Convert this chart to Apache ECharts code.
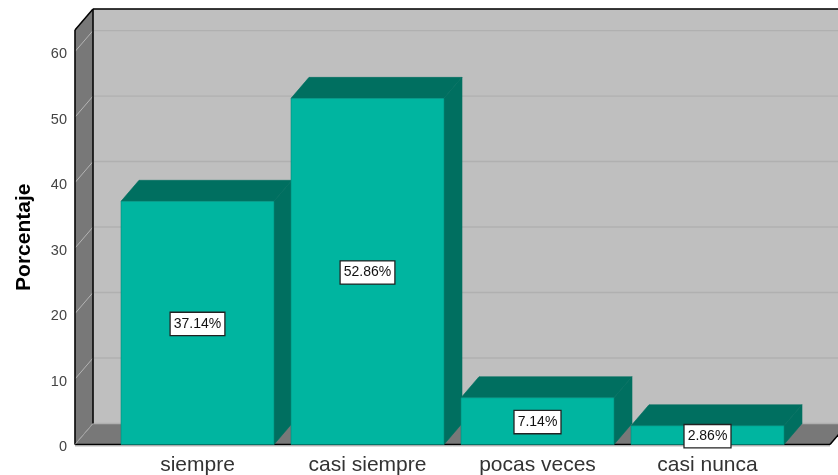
<!DOCTYPE html>
<html><head><meta charset="utf-8">
<style>html,body{margin:0;padding:0;background:#fff;overflow:hidden}#c{width:838px;height:475px}</style>
<script src="https://cdn.jsdelivr.net/npm/echarts@6/dist/echarts.min.js"></script>
</head><body><div id="c"></div>
<script>
const categories = ['siempre', 'casi siempre', 'pocas veces', 'casi nunca'];
const percentages = [37.14, 52.86, 7.14, 2.86];
const yTicks = [0, 10, 20, 30, 40, 50, 60];
const yMax = 63.3;
const DX = 18, DY = -21, MARGIN = 37.5, RIGHT_MARGIN = 37.5;
const FRONT = '#00B5A0', DARK = '#006F60', EDGE = '#00897A';
const WALL = '#787878', BACK = '#BFBFBF';

function poly(points, fill, stroke, lw) {
  return {type:'polygon', shape:{points}, style:{fill, stroke:stroke||fill, lineWidth:lw||0.6}};
}
function line(a, b, color, w) {
  return {type:'line', shape:{x1:a[0],y1:a[1],x2:b[0],y2:b[1]}, style:{stroke:color, lineWidth:w||1, fill:null}};
}
function renderBackdrop(params, api) {
  const band = api.size([1,0])[0];
  const x0 = api.coord([0,0])[0] - band/2 - MARGIN;
  const x1 = api.coord([categories.length-1,0])[0] + band/2 + RIGHT_MARGIN;
  const yB = api.coord([0,0])[1];
  const yT = api.coord([0,yMax])[1];
  const ch = [];
  ch.push(poly([[x0+DX,yT+DY],[x1+DX,yT+DY],[x1+DX,yB+DY],[x0+DX,yB+DY]], BACK));
  ch.push(poly([[x0,yT],[x0+DX,yT+DY],[x0+DX,yB+DY],[x0,yB]], WALL));
  ch.push(poly([[x0,yB],[x0+DX,yB+DY],[x1+DX,yB+DY],[x1,yB]], WALL));
  yTicks.forEach(v => {
    const y = api.coord([0,v])[1];
    ch.push(line([x0+DX,y+DY],[x1+DX,y+DY],'#B0B0B0',1.4));
    ch.push(line([x0,y],[x0+DX,y+DY],'#B4B4B4',1));
  });
  ch.push(line([x0,yB+1.6],[x1,yB+1.6],'#C4C4C4',1));
  ch.push(line([x0,yB],[x1,yB],'#000',1.5));
  ch.push(line([x1,yB],[x1+DX,yB+DY],'#000',1.5));
  ch.push(line([x0,yT],[x0,yB],'#000',1.5));
  ch.push(line([x0,yT],[x0+DX,yT+DY],'#000',1.5));
  ch.push(line([x0+DX,yT+DY],[x1+DX,yT+DY],'#000',1.5));
  ch.push(line([x0+DX,yT+DY],[x0+DX,yB+DY],'#000',1.5));
  ch.push(line([x0,yB],[x0+DX,yB+DY],'#9A9A9A',0.8));
  return {type:'group', children:ch};
}
function renderBar(params, api) {
  const i = api.value(0), v = api.value(1);
  const c = api.coord([i, v]), b = api.coord([i, 0]);
  const w = api.size([1,0])[0]*0.9;
  const l = c[0]-w/2, r = c[0]+w/2, t = c[1], y0 = b[1];
  return {type:'group', children:[
    poly([[r,t],[r+DX,t+DY],[r+DX,y0+DY],[r,y0]], DARK, DARK),
    poly([[l,t],[l+DX,t+DY],[r+DX,t+DY],[r,t]], DARK, DARK),
    poly([[l,t],[r,t],[r,y0],[l,y0]], FRONT, EDGE)
  ]};
}
function renderLabel(params, api) {
  const i = api.value(0), v = api.value(1);
  const p = api.coord([i, v/2]);
  return {type:'text', style:{x:p[0], y:p[1]+1, text:v.toFixed(2)+'%', align:'center', verticalAlign:'middle',
    font:'14px "Liberation Sans"', fill:'#111', backgroundColor:'#fff', borderColor:'#222', borderWidth:1.3,
    padding:[4,3,4,3]}};
}
const barData = percentages.map((v,i)=>[i,v]);
const chart = echarts.init(document.getElementById('c'), null, {renderer:'canvas'});
chart.setOption({
  animation:false,
  backgroundColor:'#fff',
  grid:{left:112.5, right:45.5, top:30, bottom:30.5, outerBoundsMode:'none'},
  xAxis:{type:'category', data:categories, axisLine:{show:false}, axisTick:{show:false}, splitLine:{show:false},
    axisLabel:{margin:10, fontSize:21, color:'#333', fontFamily:'Liberation Sans', interval:0}},
  yAxis:{type:'value', min:0, max:yMax, interval:10, offset:37.5, name:'Porcentaje', nameLocation:'middle', nameGap:40,
    nameTextStyle:{fontSize:21, fontWeight:'bold', color:'#000', fontFamily:'Liberation Sans'},
    axisLine:{show:false}, axisTick:{show:false}, splitLine:{show:false},
    axisLabel:{margin:8, fontSize:14.5, color:'#444', fontFamily:'Liberation Sans', showMaxLabel:false, verticalAlign:'top', lineHeight:5}},
  series:[
    {type:'custom', data:[[0,0]], renderItem:renderBackdrop, silent:true, z:1, clip:false},
    {type:'custom', data:barData, encode:{x:0,y:1}, renderItem:renderBar, z:2, clip:false},
    {type:'custom', data:barData, encode:{x:0,y:1}, renderItem:renderLabel, z:3, clip:false}
  ]
});
</script></body></html>
